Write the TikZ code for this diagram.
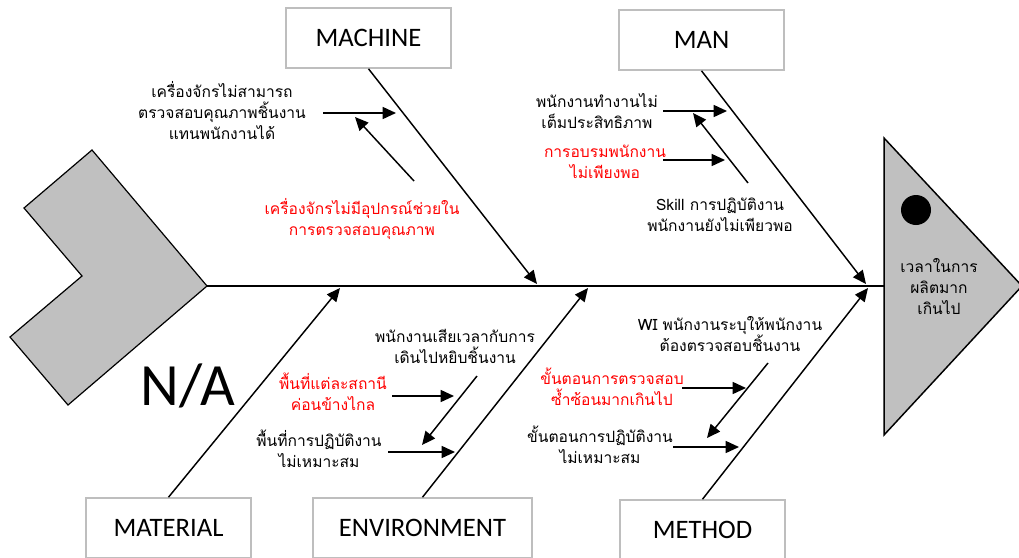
\documentclass[tikz,border=0pt]{standalone}
\usepackage{fontspec}
\setmainfont{Carlito}
\newfontfamily\thai[Script=Thai]{Loma}
\usetikzlibrary{arrows.meta}
\definecolor{fishgray}{RGB}{192,192,192}
\definecolor{boxline}{RGB}{190,190,190}
\tikzset{
  catbox/.style={draw=boxline, line width=1.2pt, fill=white, minimum width=123.75pt, minimum height=45pt, inner sep=0pt, font=\fontsize{20}{22}\selectfont},
  bone/.style={line width=1.1pt, -{Triangle[length=10pt,width=9pt]}},
  arr/.style={line width=1.1pt, -{Triangle[length=10pt,width=9pt]}},
  cause/.style={align=center, inner sep=0pt, font=\thai\fontsize{11.7}{15.75}\selectfont},
  redcause/.style={cause, text=red},
}
\begin{document}
\begin{tikzpicture}[x=0.75pt,y=-0.75pt]
\useasboundingbox (0,0) rectangle (1019,557);
% head triangle
\draw[fill=fishgray, line width=1.1pt] (884,138) -- (1022,286) -- (884,435) -- cycle;
\node[circle, fill=black, minimum size=22.5pt, inner sep=0pt] (eye) at (916,210) {};
\node[cause] (effect) at (939,287) {เวลาในการ\\ผลิตมาก\\เกินไป};
% tail
\draw[fill=fishgray, line width=0.9pt] (92,150) -- (24,208) -- (82,276) -- (10,337) -- (68,405) -- (207,286) -- cycle;
\coordinate (tail) at (207,286);
\coordinate (head) at (884,286);
\draw[line width=1.1pt] (tail) -- (head);
\node[font=\fontsize{45}{50}\selectfont, inner sep=0pt] (na) at (188,386) {N/A};
% category boxes
\node[catbox] (machine) at (368.5,38) {MACHINE};
\node[catbox] (man) at (701.5,40) {MAN};
\node[catbox] (material) at (168.5,528) {MATERIAL};
\node[catbox, minimum width=164.25pt] (environment) at (422.5,528) {ENVIRONMENT};
\node[catbox] (method) at (702.5,530) {METHOD};
% main bones
\coordinate (machineTip) at (537,284);
\coordinate (manTip) at (866,284);
\coordinate (materialTip) at (340,288);
\coordinate (environmentTip) at (588,288);
\coordinate (methodTip) at (868,288);
\draw[bone] (machine.south) -- (machineTip);
\draw[bone] (man.south) -- (manTip);
\draw[bone] (material.north) -- (materialTip);
\draw[bone] (environment.north) -- (environmentTip);
\draw[bone] (method.north) -- (methodTip);
% MACHINE causes
\node[cause] (mc1) at (222,111) {เครื่องจักรไม่สามารถ\\ตรวจสอบคุณภาพชิ้นงาน\\แทนพนักงานได้};
\node[redcause] (mc2) at (362,219) {เครื่องจักรไม่มีอุปกรณ์ช่วยใน\\การตรวจสอบคุณภาพ};
\coordinate (mc1s) at (323,113); \coordinate (mc1e) at (396,113);
\coordinate (mc2s) at (414,181); \coordinate (mc2e) at (355,117);
\draw[arr] (mc1s) -- (mc1e);
\draw[arr] (mc2s) -- (mc2e);
% MAN causes
\node[cause] (mn1) at (597,111) {พนักงานทำงานไม่\\เต็มประสิทธิภาพ};
\node[redcause] (mn2) at (605,162) {การอบรมพนักงาน\\ไม่เพียงพอ};
\node[cause] (mn3) at (720,215) {Skill การปฏิบัติงาน\\พนักงานยังไม่เพียวพอ};
\coordinate (mn1s) at (663,111); \coordinate (mn1e) at (727,111);
\coordinate (mn2s) at (663,160); \coordinate (mn2e) at (725,160);
\coordinate (mn3s) at (748,183); \coordinate (mn3e) at (693,113);
\draw[arr] (mn1s) -- (mn1e);
\draw[arr] (mn2s) -- (mn2e);
\draw[arr] (mn3s) -- (mn3e);
% ENVIRONMENT causes
\node[cause] (en1) at (455,346) {พนักงานเสียเวลากับการ\\เดินไปหยิบชิ้นงาน};
\node[redcause] (en2) at (333,392) {พื้นที่แต่ละสถานี\\ค่อนข้างไกล};
\node[cause] (en3) at (319,449) {พื้นที่การปฏิบัติงาน\\ไม่เหมาะสม};
\coordinate (en1s) at (477,376); \coordinate (en1e) at (422,445);
\coordinate (en2s) at (392,396); \coordinate (en2e) at (454,396);
\coordinate (en3s) at (388,452); \coordinate (en3e) at (455,452);
\draw[arr] (en1s) -- (en1e);
\draw[arr] (en2s) -- (en2e);
\draw[arr] (en3s) -- (en3e);
% METHOD causes
\node[cause] (me1) at (730,334) {WI พนักงานระบุให้พนักงาน\\ต้องตรวจสอบชิ้นงาน};
\node[redcause] (me2) at (612,387) {ขั้นตอนการตรวจสอบ\\ซ้ำซ้อนมากเกินไป};
\node[cause] (me3) at (600,445) {ขั้นตอนการปฏิบัติงาน\\ไม่เหมาะสม};
\coordinate (me1s) at (768,363); \coordinate (me1e) at (707,438);
\coordinate (me2s) at (682,388); \coordinate (me2e) at (746,388);
\coordinate (me3s) at (673,447); \coordinate (me3e) at (739,447);
\draw[arr] (me1s) -- (me1e);
\draw[arr] (me2s) -- (me2e);
\draw[arr] (me3s) -- (me3e);
\end{tikzpicture}
\end{document}
